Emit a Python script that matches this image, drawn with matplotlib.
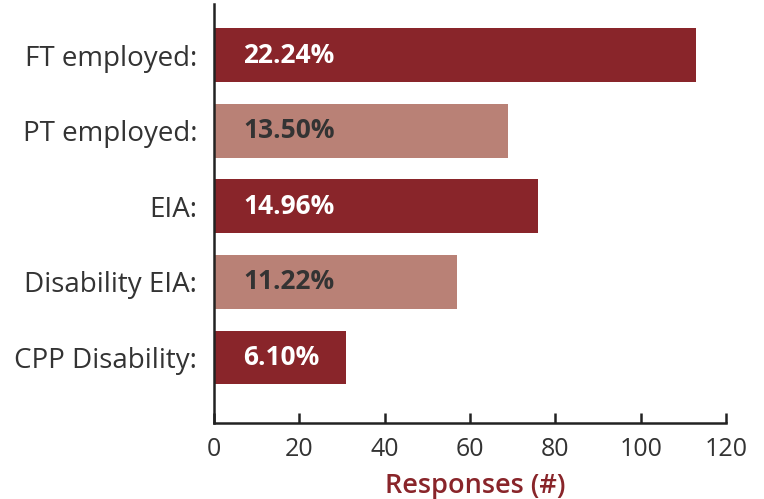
import matplotlib
matplotlib.use("Agg")
import matplotlib.pyplot as plt

# Employment / income source responses
categories = ["FT employed:", "PT employed:", "EIA:", "Disability EIA:", "CPP Disability:"]
responses = [113, 69, 76, 57, 31]
percent_labels = ["22.24%", "13.50%", "14.96%", "11.22%", "6.10%"]
x_ticks = [0, 20, 40, 60, 80, 100, 120]

DARK = "#89252A"
LIGHT = "#B98176"
TEXT = "#333333"

plt.rcParams["font.family"] = ["Open Sans", "DejaVu Sans"]

fig = plt.figure(figsize=(7.64, 4.99), dpi=100)
ax = fig.add_axes([214 / 764, 1 - 423 / 499, 512 / 764, 419 / 499])

colors = [DARK if i % 2 == 0 else LIGHT for i in range(len(categories))]
y = list(range(len(categories)))
ax.barh(y, responses, height=0.71, color=colors)

for yi, val, lab, c in zip(y, responses, percent_labels, colors):
    ax.text(6.8, yi, lab, va="center", ha="left", fontsize=19, fontweight="bold",
            color="white" if c == DARK else TEXT)

ax.set_xlim(0, 120)
ax.set_ylim(len(categories) - 1 + 0.866, -0.675)
ax.set_xticks(x_ticks)
ax.set_yticks(y)
ax.set_yticklabels(categories)

for side in ("top", "right"):
    ax.spines[side].set_visible(False)
for side in ("left", "bottom"):
    ax.spines[side].set_linewidth(1.8)
    ax.spines[side].set_color("#222222")

ax.tick_params(axis="x", direction="in", length=7.2, width=1.8, color="#222222",
               labelsize=18, labelcolor=TEXT, pad=10)
ax.tick_params(axis="y", length=0, labelsize=20, labelcolor=TEXT, pad=12)

ax.set_xlabel("Responses (#)", fontsize=19.5, fontweight="semibold", color=DARK)
ax.xaxis.set_label_coords(0.51, -0.117)

fig.savefig("out.png", dpi=100)
